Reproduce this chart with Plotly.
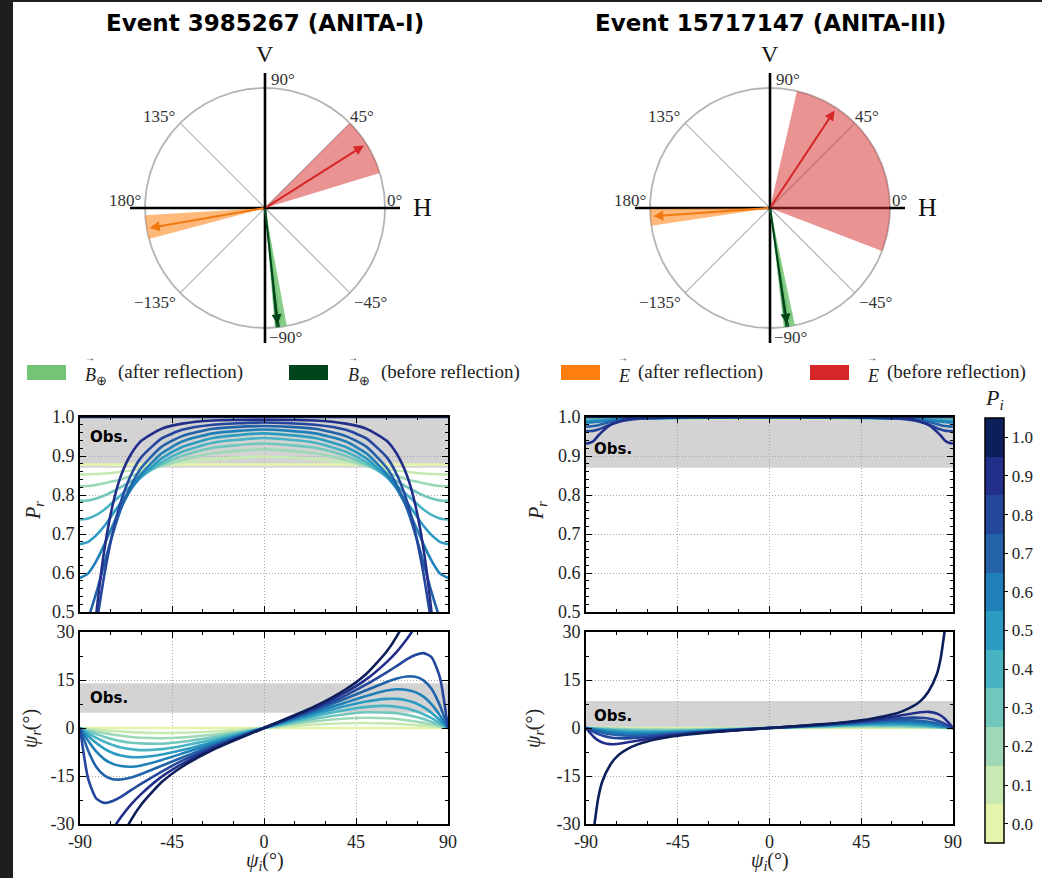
import numpy as np
import plotly.graph_objects as go

W, H = 1042, 878
SERIF = "Liberation Serif"
SANS_B = "DejaVu Sans"


def fx(p):
    return p / W


def fy(p):
    return 1 - p / H


# ---------------------------------------------------------------- data
P_I = [0.0, 0.1, 0.2, 0.3, 0.4, 0.5, 0.6, 0.7, 0.8, 0.9, 1.0]
P_I_LABELS = ["0.0", "0.1", "0.2", "0.3", "0.4", "0.5", "0.6", "0.7", "0.8", "0.9", "1.0"]
P_I_COLORS = ["#e4f4ac", "#c8e9b2", "#9ed8b7", "#72c7bd", "#48b3c3", "#2b9bc1",
              "#1f7fb7", "#2262a8", "#24479c", "#222f8a", "#0d1f5b"]

PSI_I_TICKS = [-90, -45, 0, 45, 90]
PSI_I_LABELS = ["-90", "-45", "0", "45", "90"]
PR_TICKS = [0.5, 0.6, 0.7, 0.8, 0.9, 1.0]
PR_LABELS = ["0.5", "0.6", "0.7", "0.8", "0.9", "1.0"]
PSIR_TICKS = [-30, -15, 0, 15, 30]
PSIR_LABELS = ["-30", "-15", "0", "15", "30"]

# incidence angle grids
XL = [-90, -86, -82, -78, -74, -70, -65, -60, -50, -40, -25, 0, 25, 40, 50, 60, 65, 70, 74, 78, 82, 86, 90]
XR = [-90, -88, -86, -84, -82, -78, -74, -70, -65, -60, -50, -40, -25, 0, 25, 40, 50, 60, 65, 70, 74, 78, 82, 84, 86, 88, 90]

# Event 3985267 (ANITA-I): reflected polarization fraction, one row per P_i
PR_EV1 = [
    [0.878] * 23,
    [0.853, 0.853, 0.854, 0.855, 0.857, 0.860, 0.863, 0.867, 0.875, 0.883, 0.892, 0.898, 0.892, 0.883, 0.875, 0.867, 0.863, 0.860, 0.857, 0.855, 0.854, 0.853, 0.853],
    [0.822, 0.823, 0.826, 0.830, 0.835, 0.840, 0.849, 0.858, 0.875, 0.890, 0.907, 0.917, 0.907, 0.890, 0.875, 0.858, 0.849, 0.840, 0.835, 0.830, 0.826, 0.823, 0.822],
    [0.785, 0.786, 0.791, 0.799, 0.809, 0.820, 0.835, 0.850, 0.878, 0.900, 0.921, 0.932, 0.921, 0.900, 0.878, 0.850, 0.835, 0.820, 0.809, 0.799, 0.791, 0.786, 0.785],
    [0.737, 0.740, 0.749, 0.763, 0.781, 0.800, 0.824, 0.846, 0.884, 0.911, 0.934, 0.946, 0.934, 0.911, 0.884, 0.846, 0.824, 0.800, 0.781, 0.763, 0.749, 0.740, 0.737],
    [0.674, 0.680, 0.697, 0.721, 0.751, 0.781, 0.816, 0.847, 0.894, 0.923, 0.946, 0.958, 0.946, 0.923, 0.894, 0.847, 0.816, 0.781, 0.751, 0.721, 0.697, 0.680, 0.674],
    [0.587, 0.599, 0.631, 0.674, 0.722, 0.767, 0.815, 0.854, 0.907, 0.937, 0.958, 0.968, 0.958, 0.937, 0.907, 0.854, 0.815, 0.767, 0.722, 0.674, 0.631, 0.599, 0.587],
    [0.462, 0.487, 0.550, 0.626, 0.700, 0.764, 0.825, 0.870, 0.924, 0.951, 0.970, 0.977, 0.970, 0.951, 0.924, 0.870, 0.825, 0.764, 0.700, 0.626, 0.550, 0.487, 0.462],
    [0.262, 0.332, 0.467, 0.598, 0.704, 0.783, 0.852, 0.897, 0.945, 0.967, 0.980, 0.986, 0.980, 0.967, 0.945, 0.897, 0.852, 0.783, 0.704, 0.598, 0.467, 0.332, 0.262],
    [0.105, 0.282, 0.497, 0.662, 0.775, 0.849, 0.905, 0.939, 0.970, 0.983, 0.991, 0.993, 0.991, 0.983, 0.970, 0.939, 0.905, 0.849, 0.775, 0.662, 0.497, 0.282, 0.105],
    [1.0] * 23,
]

# Event 3985267 (ANITA-I): reflected polarization angle (deg)
PSIR_EV1 = [
    [0.0] * 23,
    [0, -0.24, -0.48, -0.71, -0.92, -1.1, -1.29, -1.43, -1.57, -1.5, -1.1, 0, 1.1, 1.5, 1.57, 1.43, 1.29, 1.1, 0.92, 0.71, 0.48, 0.24, 0],
    [0, -0.56, -1.1, -1.6, -2.05, -2.4, -2.8, -3.05, -3.2, -2.95, -2.1, 0, 2.1, 2.95, 3.2, 3.05, 2.8, 2.4, 2.05, 1.6, 1.1, 0.56, 0],
    [0, -1.0, -1.9, -2.8, -3.5, -4.1, -4.6, -4.8, -4.9, -4.3, -2.9, 0, 2.9, 4.3, 4.9, 4.8, 4.6, 4.1, 3.5, 2.8, 1.9, 1.0, 0],
    [0, -1.6, -3.1, -4.3, -5.3, -6.1, -6.6, -6.9, -6.6, -5.6, -3.7, 0, 3.7, 5.6, 6.6, 6.9, 6.6, 6.1, 5.3, 4.3, 3.1, 1.6, 0],
    [0, -2.5, -4.7, -6.5, -7.8, -8.6, -9.1, -9.1, -8.3, -6.9, -4.35, 0, 4.35, 6.9, 8.3, 9.1, 9.1, 8.6, 7.8, 6.5, 4.7, 2.5, 0],
    [0, -4.0, -7.4, -9.8, -11.2, -11.9, -12.1, -11.7, -10.0, -8.0, -4.9, 0, 4.9, 8.0, 10.0, 11.7, 12.1, 11.9, 11.2, 9.8, 7.4, 4.0, 0],
    [0, -7.1, -12.2, -14.9, -16.0, -16.1, -15.5, -14.4, -11.8, -9.2, -5.5, 0, 5.5, 9.2, 11.8, 14.4, 15.5, 16.1, 16.0, 14.9, 12.2, 7.1, 0],
    [0, -15.9, -22.1, -23.4, -22.8, -21.5, -19.4, -17.4, -13.6, -10.2, -6.0, 0, 6.0, 10.2, 13.6, 17.4, 19.4, 21.5, 22.8, 23.4, 22.1, 15.9, 0],
    [-90, -51.2, -41.9, -36.2, -31.7, -27.9, -23.9, -20.6, -15.2, -11.2, -6.4, 0, 6.4, 11.2, 15.2, 20.6, 23.9, 27.9, 31.7, 36.2, 41.9, 51.2, 90],
    [-90, -74.7, -61.0, -50.2, -41.6, -35.0, -28.7, -23.9, -16.9, -12.1, -6.8, 0, 6.8, 12.1, 16.9, 23.9, 28.7, 35.0, 41.6, 50.2, 61.0, 74.7, 90],
]

# Event 15717147 (ANITA-III): reflected polarization fraction
PR_EV3 = [
    [0.9964] * 27,
    [0.9956, 0.9956, 0.9957, 0.9958, 0.996, 0.996, 0.996, 0.996, 0.9965, 0.9965, 0.997, 0.997, 0.997, 0.997, 0.997, 0.997, 0.997, 0.9965, 0.9965, 0.996, 0.996, 0.996, 0.996, 0.9958, 0.9957, 0.9956, 0.9956],
    [0.9945, 0.9946, 0.9947, 0.995, 0.995, 0.995, 0.995, 0.996, 0.996, 0.996, 0.997, 0.997, 0.998, 0.998, 0.998, 0.997, 0.997, 0.996, 0.996, 0.996, 0.995, 0.995, 0.995, 0.995, 0.9947, 0.9946, 0.9945],
    [0.993, 0.993, 0.993, 0.9932, 0.9935, 0.994, 0.995, 0.995, 0.996, 0.996, 0.997, 0.998, 0.998, 0.999, 0.998, 0.998, 0.997, 0.996, 0.996, 0.995, 0.995, 0.994, 0.9935, 0.9932, 0.993, 0.993, 0.993],
    [0.991, 0.991, 0.991, 0.992, 0.992, 0.993, 0.994, 0.995, 0.996, 0.997, 0.997, 0.998, 0.999, 0.999, 0.999, 0.998, 0.997, 0.997, 0.996, 0.995, 0.994, 0.993, 0.992, 0.992, 0.991, 0.991, 0.991],
    [0.989, 0.989, 0.990, 0.990, 0.991, 0.992, 0.994, 0.995, 0.996, 0.997, 0.998, 0.998, 0.999, 0.9995, 0.999, 0.998, 0.998, 0.997, 0.996, 0.995, 0.994, 0.992, 0.991, 0.990, 0.990, 0.989, 0.989],
    [0.986, 0.986, 0.987, 0.988, 0.989, 0.991, 0.993, 0.995, 0.996, 0.997, 0.998, 0.999, 0.999, 0.9996, 0.999, 0.999, 0.998, 0.997, 0.996, 0.995, 0.993, 0.991, 0.989, 0.988, 0.987, 0.986, 0.986],
    [0.975, 0.976, 0.977, 0.979, 0.982, 0.987, 0.991, 0.994, 0.996, 0.997, 0.998, 0.999, 0.9995, 0.9997, 0.9995, 0.999, 0.998, 0.997, 0.996, 0.994, 0.991, 0.987, 0.982, 0.979, 0.977, 0.976, 0.975],
    [0.963, 0.964, 0.965, 0.968, 0.972, 0.981, 0.988, 0.992, 0.995, 0.9967, 0.998, 0.999, 0.9997, 0.9998, 0.9997, 0.999, 0.998, 0.9967, 0.995, 0.992, 0.988, 0.981, 0.972, 0.968, 0.965, 0.964, 0.963],
    [0.932, 0.934, 0.940, 0.952, 0.963, 0.980, 0.988, 0.9935, 0.9966, 0.998, 0.999, 0.9995, 0.9998, 0.9999, 0.9998, 0.9995, 0.999, 0.998, 0.9966, 0.9935, 0.988, 0.980, 0.963, 0.952, 0.940, 0.934, 0.932],
    [1.0] * 27,
]

# Event 15717147 (ANITA-III): reflected polarization angle (deg)
PSIR_EV3 = [
    [0.0] * 27,
    [0, -0.02, -0.04, -0.055, -0.07, -0.11, -0.14, -0.17, -0.2, -0.22, -0.245, -0.24, -0.18, 0, 0.18, 0.24, 0.245, 0.22, 0.2, 0.17, 0.14, 0.11, 0.07, 0.055, 0.04, 0.02, 0],
    [0, -0.04, -0.08, -0.13, -0.17, -0.25, -0.31, -0.37, -0.43, -0.47, -0.5, -0.47, -0.33, 0, 0.33, 0.47, 0.5, 0.47, 0.43, 0.37, 0.31, 0.25, 0.17, 0.13, 0.08, 0.04, 0],
    [0, -0.08, -0.15, -0.21, -0.28, -0.41, -0.52, -0.61, -0.69, -0.74, -0.76, -0.68, -0.47, 0, 0.47, 0.68, 0.76, 0.74, 0.69, 0.61, 0.52, 0.41, 0.28, 0.21, 0.15, 0.08, 0],
    [0, -0.12, -0.23, -0.33, -0.44, -0.63, -0.78, -0.9, -1.0, -1.05, -1.03, -0.9, -0.59, 0, 0.59, 0.9, 1.03, 1.05, 1.0, 0.9, 0.78, 0.63, 0.44, 0.33, 0.23, 0.12, 0],
    [0, -0.17, -0.33, -0.5, -0.65, -0.91, -1.12, -1.27, -1.37, -1.4, -1.31, -1.1, -0.7, 0, 0.7, 1.1, 1.31, 1.4, 1.37, 1.27, 1.12, 0.91, 0.65, 0.5, 0.33, 0.17, 0],
    [0, -0.25, -0.5, -0.73, -0.95, -1.32, -1.58, -1.73, -1.82, -1.8, -1.6, -1.3, -0.8, 0, 0.8, 1.3, 1.6, 1.8, 1.82, 1.73, 1.58, 1.32, 0.95, 0.73, 0.5, 0.25, 0],
    [0, -0.4, -0.77, -1.14, -1.45, -1.94, -2.22, -2.37, -2.37, -2.27, -1.91, -1.5, -0.9, 0, 0.9, 1.5, 1.91, 2.27, 2.37, 2.37, 2.22, 1.94, 1.45, 1.14, 0.77, 0.4, 0],
    [0, -0.68, -1.3, -1.9, -2.35, -2.96, -3.22, -3.24, -3.07, -2.8, -2.22, -1.68, -0.98, 0, 0.98, 1.68, 2.22, 2.8, 3.07, 3.24, 3.22, 2.96, 2.35, 1.9, 1.3, 0.68, 0],
    [0, -1.5, -2.9, -3.9, -4.5, -5.05, -4.9, -4.55, -4.0, -3.45, -2.55, -1.86, -1.06, 0, 1.06, 1.86, 2.55, 3.45, 4.0, 4.55, 4.9, 5.05, 4.5, 3.9, 2.9, 1.5, 0],
    [-90, -38.4, -30.7, -21.9, -16.7, -11.4, -8.4, -6.65, -5.2, -4.2, -2.9, -2.04, -1.13, 0, 1.13, 2.04, 2.9, 4.2, 5.2, 6.65, 8.4, 11.4, 16.7, 21.9, 30.7, 38.4, 90],
]

# observed bands
OBS_PR_EV1 = [0.87, 1.0]
OBS_PSIR_EV1 = [4.8, 14.0]
OBS_PR_EV3 = [0.87, 1.0]
OBS_PSIR_EV3 = [0.0, 8.4]

# polarization diagrams: order B after, B before, E after, E before (deg)
VEC_NAMES = ["B after", "B before", "E after", "E before"]
EV1_ARROW = [-82.5, -83.8, -170.2, 32.3]
EV1_LO = [-85.5, -84.8, -176.5, 17.0]
EV1_HI = [-79.5, -82.8, -165.0, 45.0]
EV3_ARROW = [-80.5, -81.7, -176.0, 56.5]
EV3_LO = [-83.5, -82.7, -179.5, -21.0]
EV3_HI = [-78.0, -80.7, -171.5, 77.0]

TITLES = ["Event 3985267 (ANITA-I)", "Event 15717147 (ANITA-III)"]

# ---------------------------------------------------------------- styles
WEDGE_FILL = ["rgba(116,196,118,0.85)", "rgba(0,68,27,0.85)",
              "rgba(255,127,14,0.55)", "rgba(214,39,40,0.5)"]
ARROW_COLOR = ["#74c476", "#00441b", "#f07a10", "#d62728"]
LEGEND_COLOR = ["#74c476", "#00441b", "#ff7f0e", "#d62728"]
GRAY = "#b4b4b4"

fig = go.Figure()
common = dict(hoverinfo="skip", showlegend=False)

POLAR_AXES = [("x", "y"), ("x2", "y2")]
EVENTS = [(EV1_ARROW, EV1_LO, EV1_HI), (EV3_ARROW, EV3_LO, EV3_HI)]
AX_EXT = 1.125
ARROW_LEN = 0.975


def note(x, y, text, font, xa="center", ya="middle", **kw):
    fig.add_annotation(x=fx(x), y=fy(y), xref="paper", yref="paper", text=text,
                       showarrow=False, xanchor=xa, yanchor=ya, font=font, **kw)


circ = np.radians(np.linspace(0, 360, 361))
for (xa, ya), (arrow, lo, hi) in zip(POLAR_AXES, EVENTS):
    fig.add_trace(go.Scatter(x=np.cos(circ), y=np.sin(circ), mode="lines",
                             line=dict(color=GRAY, width=1.8), xaxis=xa, yaxis=ya, **common))
    dx, dy = [], []
    for ang in [45, 135, -135, -45]:
        dx += [0, float(np.cos(np.radians(ang))), None]
        dy += [0, float(np.sin(np.radians(ang))), None]
    fig.add_trace(go.Scatter(x=dx, y=dy, mode="lines", line=dict(color=GRAY, width=1.2),
                             xaxis=xa, yaxis=ya, **common))
    fig.add_trace(go.Scatter(x=[-AX_EXT, AX_EXT, None, 0, 0], y=[0, 0, None, -AX_EXT, AX_EXT],
                             mode="lines", line=dict(color="black", width=2.6),
                             xaxis=xa, yaxis=ya, **common))
    for k in range(4):
        th = np.radians(np.linspace(lo[k], hi[k], 60))
        fig.add_trace(go.Scatter(x=[0, *np.cos(th), 0], y=[0, *np.sin(th), 0], fill="toself",
                                 fillcolor=WEDGE_FILL[k], mode="lines",
                                 line=dict(width=0, color=WEDGE_FILL[k]),
                                 xaxis=xa, yaxis=ya, **common))
    for k in range(4):
        a = np.radians(arrow[k])
        fig.add_annotation(x=ARROW_LEN * np.cos(a), y=ARROW_LEN * np.sin(a), ax=0, ay=0,
                           xref=xa, yref=ya, axref=xa, ayref=ya, text="", showarrow=True,
                           arrowhead=2, arrowsize=1.0, arrowwidth=2.0, arrowcolor=ARROW_COLOR[k],
                           standoff=0, startstandoff=0)
    lab_font = dict(family=SERIF, size=17, color="#333")
    for text, x, y, anc in [("90°", 0.03, 1.07, "left"), ("45°", 0.81, 0.76, "center"),
                            ("135°", -0.88, 0.76, "center"), ("180°", -1.17, 0.065, "center"),
                            ("0°", 1.075, 0.065, "center"), ("\u2212135°", -0.92, -0.79, "center"),
                            ("\u221245°", 0.88, -0.79, "center"), ("\u221290°", 0.02, -1.08, "left")]:
        fig.add_annotation(x=x, y=y, xref=xa, yref=ya, text=text, showarrow=False,
                           xanchor=anc, yanchor="middle", font=lab_font)
    fig.add_annotation(x=1.31, y=0.0, xref=xa, yref=ya, text="H", showarrow=False,
                       xanchor="center", yanchor="middle",
                       font=dict(family=SERIF, size=26, color="#111"))
    fig.add_annotation(x=0.0, y=1.285, xref=xa, yref=ya, text="V", showarrow=False,
                       xanchor="center", yanchor="middle",
                       font=dict(family=SERIF, size=24, color="#111"))

# titles
for cx, t in zip([265, 770], TITLES):
    note(cx, 23, "<b>" + t + "</b>", dict(family=SANS_B, size=23, color="black"))

# ---------------------------------------------------------------- curve panels
PANELS = [("x3", "y3", XL, PR_EV1), ("x4", "y4", XL, PSIR_EV1),
          ("x5", "y5", XR, PR_EV3), ("x6", "y6", XR, PSIR_EV3)]
for xa, ya, X, rows in PANELS:
    for i, row in enumerate(rows):
        fig.add_trace(go.Scatter(x=X, y=row, mode="lines",
                                 line=dict(color=P_I_COLORS[i], width=2.6, shape="spline", smoothing=0.6),
                                 xaxis=xa, yaxis=ya, **common))

# colorbar
cs = []
for i, c in enumerate(P_I_COLORS):
    cs += [[i / 11, c], [(i + 1) / 11, c]]
fig.add_trace(go.Scatter(x=[0], y=[5], mode="markers", xaxis="x3", yaxis="y3",
                         marker=dict(size=1, color=[0.5], colorscale=cs, cmin=-0.05, cmax=1.05,
                                     showscale=True,
                                     colorbar=dict(x=fx(985), xanchor="left",
                                                   y=fy(630.5), yanchor="middle",
                                                   len=425, lenmode="pixels",
                                                   thickness=19, thicknessmode="pixels",
                                                   xpad=0, ypad=0,
                                                   outlinewidth=1.5, outlinecolor="black",
                                                   tickmode="array", tickvals=P_I, ticktext=P_I_LABELS,
                                                   ticks="outside", ticklen=4, tickcolor="black",
                                                   tickfont=dict(family=SERIF, size=17, color="#222"))),
                         **common))

shapes = []
for xa, ya, band in [("x3", "y3", OBS_PR_EV1), ("x4", "y4", OBS_PSIR_EV1),
                     ("x5", "y5", OBS_PR_EV3), ("x6", "y6", OBS_PSIR_EV3)]:
    shapes.append(dict(type="rect", xref=xa, yref=ya, x0=-90, x1=90, y0=band[0], y1=band[1],
                       fillcolor="rgba(150,150,150,0.42)", line=dict(width=0), layer="below"))
# dark frame strips at the left / top edge of the reference screenshot
shapes.append(dict(type="rect", xref="paper", yref="paper", x0=0, x1=fx(13), y0=0, y1=1,
                   fillcolor="#1e1e1e", line=dict(width=0), layer="above"))
shapes.append(dict(type="rect", xref="paper", yref="paper", x0=0, x1=1, y0=fy(2), y1=1,
                   fillcolor="#1e1e1e", line=dict(width=0), layer="above"))

obs_font = dict(family=SANS_B, size=15, color="black")
for (x, y) in [(88, 437), (88, 698), (592, 449), (592, 716)]:
    note(x, y, "<b>Obs.</b>", obs_font, xa="left")

# axis titles
ax_font = dict(family=SERIF, size=20, color="#222")
for x, y, t in [(34, 511, "<i>P<sub>r</sub></i>"), (537, 511, "<i>P<sub>r</sub></i>"),
                (31, 729, "<i>ψ<sub>r</sub></i>(°)"), (534, 729, "<i>ψ<sub>r</sub></i>(°)")]:
    note(x, y, t, ax_font, textangle=-90)
for x in [265, 770]:
    note(x, 861, "<i>ψ<sub>i</sub></i>(°)", ax_font)
note(994, 399, "<i>P<sub>i</sub></i>", dict(family=SERIF, size=22, color="#222"))

# legend row
LEG_PATCH_X = [27, 289, 561, 810]
LEG_SYM_X = [83, 346, 616, 865]
LEG_TEXT_X = [116, 379, 636, 885]
LEG_SYM = ["<i>B</i><sub>⊕</sub>", "<i>B</i><sub>⊕</sub>", "<i>E</i>", "<i>E</i>"]
LEG_TEXT = ["(after reflection)", "(before reflection)", "(after reflection)", "(before reflection)"]
sym_font = dict(family=SERIF, size=18, color="#222")
txt_font = dict(family=SERIF, size=19, color="#222")
for k in range(4):
    shapes.append(dict(type="rect", xref="paper", yref="paper", x0=fx(LEG_PATCH_X[k]),
                       x1=fx(LEG_PATCH_X[k] + 39), y0=fy(380), y1=fy(365),
                       fillcolor=LEGEND_COLOR[k], line=dict(width=0)))
    note(LEG_SYM_X[k], 376, LEG_SYM[k], sym_font, xa="left")
    note(LEG_SYM_X[k] + 7, 357, "→", dict(family=SERIF, size=10, color="#222"))
    note(LEG_TEXT_X[k], 372, LEG_TEXT[k], txt_font, xa="left")


def xaxis_cfg(domain, anchor, labels):
    return dict(domain=domain, anchor=anchor, range=[-90, 90], tickmode="array",
                tickvals=PSI_I_TICKS, ticktext=PSI_I_LABELS, showticklabels=labels,
                ticks="inside", ticklen=6, tickwidth=1.3, tickcolor="black",
                minor=dict(tickmode="linear", tick0=0, dtick=15, ticks="inside", ticklen=3,
                           tickwidth=1, tickcolor="black", showgrid=False),
                showline=True, linewidth=2, linecolor="black", mirror="ticks",
                showgrid=True, gridcolor="#a8a8a8", gridwidth=1, griddash="1px,2px",
                zeroline=False, fixedrange=True,
                tickfont=dict(family=SERIF, size=18, color="#222"))


def yaxis_cfg(domain, anchor, rng, tv, tt, mdt):
    return dict(domain=domain, anchor=anchor, range=rng, tickmode="array",
                tickvals=tv, ticktext=tt, ticks="inside", ticklen=6, tickwidth=1.3,
                tickcolor="black",
                minor=dict(tickmode="linear", tick0=0, dtick=mdt, ticks="inside", ticklen=3,
                           tickwidth=1, tickcolor="black", showgrid=False),
                showline=True, linewidth=2, linecolor="black", mirror="ticks",
                showgrid=True, gridcolor="#a8a8a8", gridwidth=1, griddash="1px,2px",
                zeroline=False, fixedrange=True,
                tickfont=dict(family=SERIF, size=18, color="#222"))


hidx = dict(range=[-1.5, 1.5], visible=False, fixedrange=True, constrain="domain")
DX_L = [fx(80), fx(448)]
DX_R = [fx(586), fx(953)]
DY_T = [fy(612), fy(417)]
DY_B = [fy(824), fy(632)]

fig.update_layout(
    width=W, height=H, margin=dict(l=0, r=0, t=0, b=0, autoexpand=False),
    paper_bgcolor="white", plot_bgcolor="rgba(0,0,0,0)",
    showlegend=False,
    xaxis=dict(domain=[fx(85), fx(445)], anchor="y", **hidx),
    yaxis=dict(domain=[fy(388), fy(28)], anchor="x", scaleanchor="x", scaleratio=1, **hidx),
    xaxis2=dict(domain=[fx(590), fx(950)], anchor="y2", **hidx),
    yaxis2=dict(domain=[fy(388), fy(28)], anchor="x2", scaleanchor="x2", scaleratio=1, **hidx),
    xaxis3=xaxis_cfg(DX_L, "y3", False),
    yaxis3=yaxis_cfg(DY_T, "x3", [0.5, 1.0], PR_TICKS, PR_LABELS, 0.02),
    xaxis4=xaxis_cfg(DX_L, "y4", True),
    yaxis4=yaxis_cfg(DY_B, "x4", [-30, 30], PSIR_TICKS, PSIR_LABELS, 7.5),
    xaxis5=xaxis_cfg(DX_R, "y5", False),
    yaxis5=yaxis_cfg(DY_T, "x5", [0.5, 1.0], PR_TICKS, PR_LABELS, 0.02),
    xaxis6=xaxis_cfg(DX_R, "y6", True),
    yaxis6=yaxis_cfg(DY_B, "x6", [-30, 30], PSIR_TICKS, PSIR_LABELS, 7.5),
    shapes=shapes,
)

fig.write_html("out.html", config={"displayModeBar": False},
               post_script="document.body.style.margin='0';")
